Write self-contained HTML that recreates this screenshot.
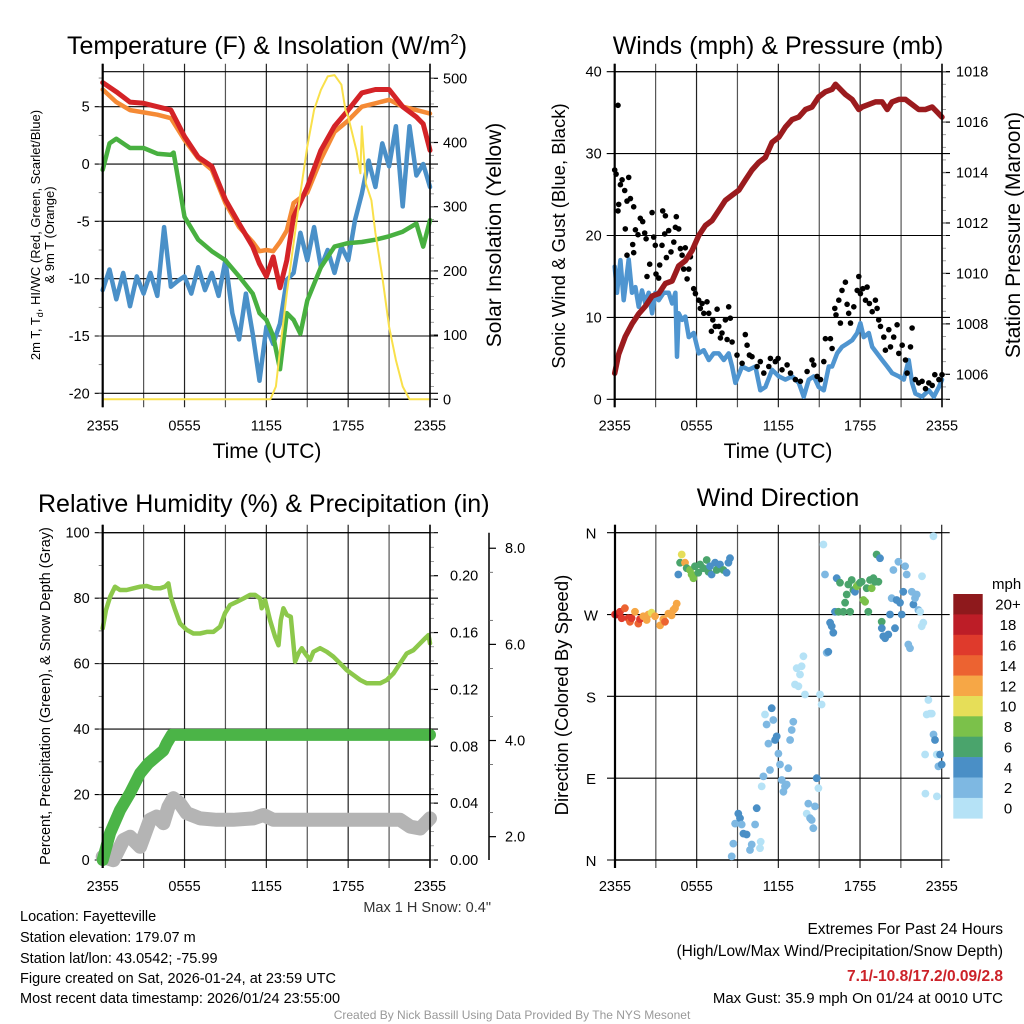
<!DOCTYPE html>
<html><head><meta charset="utf-8"><title>Mesonet Meteogram - Fayetteville</title>
<style>
html,body{margin:0;padding:0;background:#fff;}
svg{display:block;font-family:"Liberation Sans",Arial,sans-serif;}
</style></head>
<body>
<svg id="chart" width="1024" height="1024" viewBox="0 0 1024 1024" xmlns="http://www.w3.org/2000/svg">
<rect x="0" y="0" width="1024" height="1024" fill="#fff"/>
<!-- titles -->
<text x="267" y="54" font-size="25" text-anchor="middle">Temperature (F) &amp; Insolation (W/m<tspan font-size="15" dy="-10">2</tspan><tspan dy="10">)</tspan></text>
<text x="778" y="45" font-size="25" text-anchor="middle" dy="9">Winds (mph) &amp; Pressure (mb)</text>
<text x="38" y="512" font-size="25">Relative Humidity (%) &amp; Precipitation (in)</text>
<text x="778" y="506" font-size="25" text-anchor="middle">Wind Direction</text>
<!-- axis titles -->
<text transform="rotate(-90 40 235)" x="40" y="235" font-size="13" text-anchor="middle">2m T, T<tspan font-size="9" dy="3">d</tspan><tspan dy="-3">, HI/WC (Red, Green, Scarlet/Blue)</tspan></text>
<text transform="rotate(-90 54 235)" x="54" y="235" font-size="13" text-anchor="middle">&amp; 9m T (Orange)</text>
<text transform="rotate(-90 501 235)" x="501" y="235" font-size="21" text-anchor="middle">Solar Insolation (Yellow)</text>
<text x="267" y="458" font-size="21" text-anchor="middle">Time (UTC)</text>
<text transform="rotate(-90 565 236)" x="565" y="236" font-size="18.5" text-anchor="middle">Sonic Wind &amp; Gust (Blue, Black)</text>
<text transform="rotate(-90 1020 235)" x="1020" y="235" font-size="21" text-anchor="middle">Station Pressure (Maroon)</text>
<text x="778" y="458" font-size="21" text-anchor="middle">Time (UTC)</text>
<text transform="rotate(-90 50 696)" x="50" y="696" font-size="14.5" text-anchor="middle">Percent, Precipitation (Green), &amp; Snow Depth (Gray)</text>
<text transform="rotate(-90 568 695)" x="568" y="695" font-size="18.5" text-anchor="middle">Direction (Colored By Speed)</text>
<text x="992" y="589" font-size="15">mph</text>
<!-- footer text -->
<text x="491" y="912" font-size="14.5" text-anchor="end" fill="#333">Max 1 H Snow: 0.4"</text>
<text x="20" y="921" font-size="14.5">Location: Fayetteville</text>
<text x="20" y="942" font-size="14.5">Station elevation: 179.07 m</text>
<text x="20" y="963" font-size="14.5">Station lat/lon: 43.0542; -75.99</text>
<text x="20" y="983" font-size="14.5">Figure created on Sat, 2026-01-24, at 23:59 UTC</text>
<text x="20" y="1003" font-size="14.5">Most recent data timestamp: 2026/01/24 23:55:00</text>
<text x="1003" y="934" font-size="15.5" text-anchor="end">Extremes For Past 24 Hours</text>
<text x="1003" y="956" font-size="15.5" text-anchor="end">(High/Low/Max Wind/Precipitation/Snow Depth)</text>
<text x="1003" y="981" font-size="15.5" font-weight="bold" fill="#cc2229" text-anchor="end">7.1/-10.8/17.2/0.09/2.8</text>
<text x="1003" y="1003" font-size="15" text-anchor="end">Max Gust: 35.9 mph On 01/24 at 0010 UTC</text>
<text x="512" y="1019" font-size="12" fill="#999" text-anchor="middle">Created By Nick Bassill Using Data Provided By The NYS Mesonet</text>
</svg>
<script>
// ---------- DATA ----------
const timeTickLabels=['2355','0555','1155','1755','2355'];
const timeTickHours=[0,6,12,18,24];
const tempTicks=[5,0,-5,-10,-15,-20];
const insolTicks=[0,100,200,300,400,500];
const windTicks=[0,10,20,30,40];
const presTicks=[1006,1008,1010,1012,1014,1016,1018];
const rhTicks=[0,20,40,60,80,100];
const precipTicks=[0,0.04,0.08,0.12,0.16,0.20];
const snowTicks=[2,4,6,8];
const dirTicks=[0,90,180,270,360];
const dirTickLabels=['N','E','S','W','N'];
const speedBinLabels=['0','2','4','6','8','10','12','14','16','18','20+'];
const speedColors=['#b5e2f6','#7eb8e2','#4a8fc6','#4aa46c','#7bc14a','#e6de58','#f6a746','#ec6331','#df3a2c','#bd1d27','#8e191c'];

const redT=[0,1,2,3,4,5,6,7,8,9,10,11,11.5,12,12.5,13,13.5,14,15,16,17,18,19,20,21,22,23,23.5,24];
const redV=[7.1,6.3,5.4,5.3,5.0,4.7,2.4,0.6,-0.2,-3.1,-5.2,-7.2,-8.7,-9.8,-8.1,-10.8,-8.4,-4.6,-2.0,1.2,3.3,4.7,6.2,6.5,6.5,5.0,4.1,3.5,1.2];
const orangeT=[0,1,2,3,4,5,6,7,8,9,10,11,11.5,12,12.5,13,13.5,14,15,16,17,18,19,20,21,22,23,24];
const orangeV=[6.5,5.4,4.7,4.5,4.3,4.0,2.1,0.5,-0.5,-3.4,-5.5,-6.8,-7.6,-7.5,-7.6,-6.8,-5.8,-3.4,-2.5,0.4,2.8,3.8,5.0,5.3,5.6,5.0,4.7,4.4];
const dewT=[0,0.5,1,2,3,4,5,5.2,5.5,6,7,8,9,10,11,11.5,12,12.5,13,13.5,14,14.5,15,16,17,18,19,20,21,22,23,23.5,24];
const dewV=[-0.5,1.8,2.2,1.4,1.4,0.9,0.8,1.0,-1.1,-4.6,-6.6,-7.6,-8.4,-9.8,-11.3,-13,-13.6,-15,-17.9,-13,-13.6,-14.8,-11.9,-9.0,-7.2,-6.9,-6.8,-6.6,-6.3,-5.9,-5.2,-7.2,-4.9];
const chillT=[0,0.5,1,1.5,2,2.5,3,3.5,4,4.5,5,5.5,6,6.5,7,7.5,8,8.5,9,9.5,10,10.5,11,11.5,12,12.5,13,13.5,14,14.5,15,15.5,16,16.5,17,17.5,18,18.5,19,19.5,20,20.5,21,21.5,22,22.5,23,23.5,24];
const chillV=[-11,-9.2,-11.8,-9.5,-12.4,-9.8,-11.3,-9.5,-11.5,-5.5,-10.7,-10.2,-9.8,-11.3,-9.0,-11,-9.5,-11.5,-8.4,-13,-15.3,-11.3,-14.8,-18.9,-14.2,-15.7,-13.9,-10.1,-9.5,-6.0,-8.4,-5.5,-9.0,-7.5,-9.5,-7.2,-8.4,-4.9,-2.6,0.3,-2.0,1.8,-0.2,3.3,-3.7,3.3,-1.0,0.0,-2.0];
const solarT=[0,12.3,12.7,13,13.5,14,14.5,15,15.5,16,16.5,17,17.5,17.8,18,18.6,18.9,19.0,19.3,19.7,20,20.5,21,21.5,22,22.5,24];
const solarV=[0,0,20,77,165,243,321,394,451,482,503,505,490,451,440,388,352,425,336,310,259,191,113,61,20,0,0];

const windT=[0,.17,.42,.66,1.03,1.27,1.52,1.76,2.0,2.25,2.49,2.74,2.98,3.23,3.59,3.96,4.21,4.45,4.57,4.69,4.94,5.18,5.43,5.79,6.16,6.53,6.9,7.26,7.63,8.0,8.36,8.61,8.85,9.34,9.83,10.32,10.68,11.05,11.54,12.03,12.52,13.01,13.5,13.86,14.23,14.6,14.96,15.33,15.7,15.94,16.31,16.67,17.04,17.41,17.78,18.02,18.26,18.63,18.88,19.24,19.61,19.98,20.34,20.83,21.2,21.56,21.81,22.05,22.54,23.03,23.4,23.77,24];
const windV=[16.2,13,17,12.1,17.1,13,13.7,11.3,13.3,11.7,13,10.5,13,12.1,13,13,11.7,13,5.2,10.5,9.7,10.1,7.6,8.1,5.6,6.0,4.8,5.6,5.6,4.8,5.6,4.0,2.0,4.0,3.6,4.0,1.1,1.5,3.6,2.8,2.4,2.8,2.0,0.3,2.4,2.8,1.5,1.1,4.0,4.0,5.6,6.4,6.8,7.2,8.1,9.3,7.6,8.1,6.4,5.6,4.8,4.0,3.2,2.8,2.4,4.8,2.0,0.7,0.3,1.1,0.3,1.5,2.4];
const gustT=[0.24,0,0.1,0.29,0.24,0.42,0.54,1.03,0.73,0.9,0.78,1.15,1.39,0.9,1.39,1.32,1.52,1.71,1.88,2.05,2.2,2.3,2.37,2.57,2.74,2.86,2.98,3.03,3.23,3.3,3.47,3.52,3.72,3.67,3.79,3.96,4.13,4.33,4.45,4.52,4.69,4.82,4.94,5.06,5.18,5.31,5.43,5.55,5.79,5.92,6.16,6.28,6.41,6.53,6.77,6.9,7.09,7.19,7.38,7.51,7.63,7.75,7.87,8.12,8.24,8.36,8.48,8.61,8.97,9.34,9.58,9.71,9.88,10.07,10.44,10.68,10.93,11.3,11.42,11.78,11.98,12.27,12.64,12.89,13.25,13.62,14.11,14.47,14.6,14.84,15.09,15.33,15.45,15.82,15.94,16.14,16.23,16.43,16.55,16.67,16.92,17.04,17.16,17.29,17.53,17.78,17.9,18.02,18.19,18.39,18.51,18.68,18.88,19.12,19.24,19.36,19.49,19.73,19.85,20.1,20.22,20.46,20.71,20.83,21.08,21.32,21.44,21.69,21.81,22.05,22.29,22.54,22.79,23.03,23.28,23.47,23.77,24];
const gustV=[35.9,28,27.5,23.8,23,26.2,26.8,27.1,25.5,24.2,20.8,24.5,23.5,17.6,17.9,18.9,20.7,20.1,22.1,21.7,20.3,19.6,15,16.5,22.8,19.8,18.8,15.3,14.8,16.4,18.8,23,22.4,20.2,17.3,20.6,18,19.2,21,22.3,20.8,18.4,17.6,15.9,18.5,14.7,15.9,17.4,13.5,12.9,12.1,11.1,11.7,10.5,11.9,10.5,8.3,9.7,8.9,11.0,8.9,7.5,8.1,9.7,7.3,11.3,9.9,7.0,5.4,4.4,7.9,6.6,5.4,5.2,4.0,4.6,3.2,4.0,5.0,4.6,5.0,3.6,4.2,3.2,2.4,2.2,3.4,4.8,4.2,2.8,2.4,4.6,7.4,7.4,6.2,11.1,10.3,12.1,9.3,13.3,14.3,11.6,10.5,9.3,11.3,13.3,15,12.9,13.5,12.1,13.7,11.7,10.7,12.1,11.1,9.7,8.9,7.6,6.0,8.5,6.4,7.6,9.1,5.6,6.6,4.8,3.2,6.4,8.7,2.4,2.0,2.2,1.3,2.0,1.7,3.0,2.4,3.0];
const presT=[0,0.29,0.78,1.27,1.76,2.25,2.74,3.23,3.72,4.21,4.69,5.18,5.67,6.16,6.65,7.14,7.63,8.12,8.61,9.1,9.58,10.07,10.56,11.05,11.54,12.03,12.52,13.01,13.5,13.99,14.47,14.96,15.45,15.94,16.19,16.55,16.92,17.41,17.9,18.14,18.63,19.12,19.61,19.98,20.34,20.83,21.32,21.81,22.29,22.78,23.28,23.64,24];
const presV=[1006.04,1006.8,1007.5,1008,1008.4,1008.7,1009.1,1009.2,1009.6,1009.7,1010.3,1010.5,1010.9,1011.5,1011.9,1012.1,1012.5,1012.9,1013.1,1013.3,1013.7,1014.1,1014.4,1014.6,1015.2,1015.4,1015.8,1016.1,1016.2,1016.5,1016.6,1017.0,1017.2,1017.3,1017.5,1017.3,1017.1,1016.9,1016.5,1016.6,1016.7,1016.8,1016.8,1016.5,1016.8,1016.9,1016.9,1016.7,1016.5,1016.5,1016.6,1016.4,1016.2];

const rhT=[0,0.24,0.54,0.9,1.27,1.76,2.25,2.74,3.23,3.72,4.21,4.57,4.82,4.99,5.31,5.67,6.16,6.65,7.14,7.63,8.12,8.61,8.97,9.34,9.83,10.32,10.81,11.17,11.54,11.66,11.91,12.27,12.64,12.89,13.06,13.25,13.5,13.79,14.11,14.35,14.6,14.84,15.21,15.45,15.94,16.43,16.92,17.41,17.9,18.39,18.88,19.36,19.85,20.34,20.83,21.32,21.81,22.29,22.78,23.28,23.64,23.89,24];
const rhV=[70.8,76.4,80.4,83.5,82.5,82.5,83,83.5,83.7,83,83,83.5,84.5,80.4,76.4,72.3,70.3,69.2,69.2,69.7,69.7,71.3,75.4,77.9,78.9,79.9,81,81,79.9,76.9,79.4,73.3,68.2,65.6,73.3,76.9,74.9,74.3,60.6,63.1,64.7,63.1,61.1,63.6,64.7,63.6,62.1,60.1,58,56.5,55,54,54,54,55,57,60.1,63.1,64.1,66.2,67.7,68.7,66.2];
const precipT=[0,0.54,1.27,2.0,2.74,3.35,3.96,4.45,4.69,5.06,24];
const precipV=[0,0.019,0.035,0.047,0.061,0.068,0.073,0.077,0.082,0.088,0.088];
const snowT=[0,0.78,1.52,2.0,2.74,3.47,3.96,4.45,4.82,5.18,5.67,6.16,7.14,8.36,9.58,11.05,11.78,12.52,14.47,16.92,19.36,21.81,22.54,23.28,24];
const snowV=[1.58,1.51,1.93,2.0,1.79,2.35,2.42,2.28,2.62,2.8,2.69,2.49,2.38,2.35,2.35,2.38,2.45,2.35,2.35,2.35,2.35,2.35,2.21,2.17,2.38];

const dirT=[0,0.12,0.37,0.49,0.73,0.98,1.1,1.22,1.47,1.71,1.84,2.08,2.33,2.45,2.69,2.94,3.31,3.55,3.67,3.92,4.16,4.29,4.41,4.53,
4.65,4.78,4.9,5.14,5.27,5.51,5.63,5.76,5.88,6.12,6.25,6.49,6.74,6.86,6.98,7.1,7.35,7.47,7.71,7.96,8.2,8.33,8.45,
8.57,8.69,8.82,9.06,9.18,9.31,9.43,9.67,9.92,10.04,10.29,10.41,10.65,10.7,10.78,10.9,11.02,11.14,11.27,11.39,11.51,11.63,11.76,11.88,12.0,12.12,12.25,12.37,12.49,12.61,12.73,12.86,12.98,13.1,13.22,13.35,13.47,13.59,13.71,13.84,13.96,14.08,14.2,14.33,14.45,14.57,14.69,14.82,14.94,15.06,15.18,15.31,15.43,15.55,15.67,15.8,15.92,16.04,16.16,16.29,16.41,16.53,16.78,16.9,17.02,17.14,17.27,17.39,17.51,17.63,17.76,17.88,18.0,18.12,18.25,18.37,18.49,18.61,18.73,18.86,18.98,19.1,19.22,19.35,19.47,19.59,19.6,19.71,19.84,20.08,20.2,20.33,20.45,20.57,20.69,20.82,20.94,21.06,21.18,21.31,21.43,21.55,21.67,21.8,21.92,22.04,22.16,22.29,22.41,22.53,22.55,22.65,22.78,22.8,22.9,23.02,23.14,23.27,23.39,23.4,23.51,23.63,23.65,23.76,23.88,24.0];
const dirD=[270,270,273,266,277,266,262,266,273,260,265,268,264,270,272,268,258,265,262,271,269,275,277,282,
314,327,336,327,321,319,314,310,323,316,325,321,330,317,323,314,327,319,325,319,316,327,332,
4,18,40,51,46,39,29,28,11,17,39,57,13,20,81,92,160,149,128,99,167,154,132,136,117,105,88,75,81,83,101,132,143,152,193,211,191,204,213,224,182,51,62,46,44,35,59,90,79,182,171,347,314,228,229,261,257,250,273,310,273,305,273,283,292,303,273,308,297,295,301,303,305,306,286,284,299,273,308,299,310,306,336,306,332,262,255,246,244,248,270,288,319,255,286,328,283,270,295,323,314,237,233,295,281,288,292,275,273,257,312,261,116,73,160,176,161,161,356,138,132,116,70,103,116,105];
const dirS=[16,18,16,16,14,16,14,16,12,14,16,12,12,12,10,12,12,12,14,12,12,12,12,12,
4,6,10,12,6,8,8,8,6,6,6,6,6,6,4,4,4,6,4,6,4,4,4,
2,2,2,4,4,2,4,4,2,2,2,4,0,0,0,2,0,2,2,2,4,2,4,4,2,2,2,2,2,2,2,2,2,2,0,0,0,0,0,0,0,0,2,2,2,2,2,4,0,0,0,0,2,2,4,4,4,4,4,4,6,6,6,6,6,6,6,6,6,4,8,8,6,6,8,8,6,6,6,8,6,6,6,6,4,6,4,4,4,4,4,2,2,4,4,2,4,4,4,2,2,2,2,2,4,2,2,2,0,0,0,0,0,0,0,0,0,0,0,2,4,0,0,2,4,4];

// ---------- HELPERS ----------
const NS='http://www.w3.org/2000/svg';
const svg=document.getElementById('chart');
const layer=document.createElementNS(NS,'g');
svg.insertBefore(layer,svg.children[1]);


function mk(tag,attrs,parent){const e=document.createElementNS(NS,tag);for(const k in attrs)e.setAttribute(k,attrs[k]);(parent||layer).appendChild(e);return e;}
function ln(x1,y1,x2,y2,stroke,w,name){const e=mk('line',{x1:x1,y1:y1,x2:x2,y2:y2,stroke:stroke,'stroke-width':w});


return e;}
function tx(x,y,s,size,anchor,name){const e=mk('text',{x:x,y:y,'font-size':size,'text-anchor':anchor});e.textContent=s;


return e;}
function pathD(ts,vs,X,Y){let d='';const n=Math.min(ts.length,vs.length);for(let i=0;i<n;i++){d+=(i?'L':'M')+X(ts[i]).toFixed(1)+','+Y(vs[i]).toFixed(1);}return d;}
function series(ts,vs,X,Y,color,w,name){const e=mk('path',{d:pathD(ts,vs,X,Y),fill:'none',stroke:color,'stroke-width':w,'stroke-linejoin':'round','stroke-linecap':'round'});


return e;}
function timeScale(P){return t=>P.l+t/24*(P.r-P.l);}
function frame(P,X,key){
  for(let h=0;h<=24;h+=3){const x=X(h);ln(x,P.t-8,x,P.b+8,(h%6===0)?'#222':'#555',1.2,key+'-x-gridline');}
  ln(P.l,P.t,P.r,P.t,'#000',1.2,key+'-top-border');
  ln(P.l,P.b,P.r,P.b,'#000',1.5,key+'-bottom-border');
  for(let i=0;i<timeTickHours.length;i++){tx(X(timeTickHours[i]),P.b+31,timeTickLabels[i],14.5,'middle',key+'-x-tick-label');}
}
function leftTicks(P,vals,Y,fmt,key,minorStep,lo,hi){
  for(const v of vals){const y=Y(v);ln(P.l-8,y,P.r+8,y,'#000',1.1,key+'-y-gridline');tx(P.l-13,y+5,fmt(v),14.5,'end',key+'-y-tick-label');}
  if(minorStep){for(let v=lo;v<=hi+1e-9;v+=minorStep){const y=Y(v);if(y<P.t-0.5||y>P.b+0.5)continue;ln(P.l-4,y,P.l,y,'#666',0.8,key+'-y-minor-tick');}}
}
function rightTicks(P,vals,Y,fmt,key,minorStep,lo,hi,labelDx){
  for(const v of vals){const y=Y(v);ln(P.r,y,P.r+8,y,'#000',1.2,key+'-right-tick');tx(P.r+(labelDx||14),y+5,fmt(v),14.5,'start',key+'-right-tick-label');}
  if(minorStep){for(let v=lo;v<=hi+1e-9;v+=minorStep){const y=Y(v);if(y<P.t-0.5||y>P.b+0.5)continue;ln(P.r,y,P.r+4,y,'#888',0.8,key+'-right-minor-tick');}}
}

// ---------- PANEL 1: Temperature ----------
const P1={l:102.7,r:430,t:71.7,b:399.3};
const X1=timeScale(P1);
const yTemp=v=>106.7+(5-v)*11.465;
const yIns=v=>399.3-v*0.642;
frame(P1,X1,'temp');
leftTicks(P1,tempTicks,yTemp,v=>String(v),'temp',2.5,-20,7.5);
rightTicks(P1,insolTicks,yIns,v=>String(v),'insolation',20,0,500,13);
series(chillT,chillV,X1,yTemp,'#4a90c8',4.5,'wind-chill-line');
series(dewT,dewV,X1,yTemp,'#48b040',4.5,'dewpoint-line');
series(orangeT,orangeV,X1,yTemp,'#f58a35',4.5,'9m-temp-line');
series(redT,redV,X1,yTemp,'#d42327',5,'2m-temp-line');
series(solarT,solarV,X1,yIns,'#f9e04a',2,'solar-insolation-line');
ln(P1.l,P1.t-8,P1.l,P1.b+8,'#000',2.2,'temp-left-axis');
ln(P1.r,P1.t-8,P1.r,P1.b+8,'#000',1.5,'temp-right-axis');

// ---------- PANEL 2: Wind & Pressure ----------
const P2={l:614.7,r:942,t:71.7,b:399.3};
const X2=timeScale(P2);
const yWind=v=>399.3-v*8.19;
const yPres=v=>374.3-(v-1006)*25.22;
frame(P2,X2,'wind');
leftTicks(P2,windTicks,yWind,v=>String(v),'wind',0,0,0);
rightTicks(P2,presTicks,yPres,v=>String(v),'pressure',0.5,1005,1018,14);
series(windT,windV,X2,yWind,'#4f95d0',4.5,'sustained-wind-line');
for(let i=0;i<Math.min(gustT.length,gustV.length);i++){
  const c=mk('circle',{cx:X2(gustT[i]).toFixed(1),cy:yWind(gustV[i]).toFixed(1),r:2.8,fill:'#000'});
  
  
}
series(presT,presV,X2,yPres,'#9b1b1e',5.5,'station-pressure-line');
ln(P2.l,P2.t-8,P2.l,P2.b+8,'#000',2.2,'wind-left-axis');
ln(P2.r,P2.t-8,P2.r,P2.b+8,'#000',1.5,'wind-right-axis');

// ---------- PANEL 3: RH & Precip ----------
const P3={l:102.7,r:430,t:532.7,b:860};
const X3=timeScale(P3);
const yRH=v=>860-v*3.273;
const yPre=v=>860-v*1421.5;
const ySnow=v=>932.8-v*48.07;
frame(P3,X3,'rh');
leftTicks(P3,rhTicks,yRH,v=>String(v),'rh',10,0,100);
rightTicks(P3,precipTicks,yPre,v=>v.toFixed(2),'precip',0.01,0,0.23,20);
ln(489,532.7,489,860,'#000',1.5,'snow-axis-line');
for(const v of snowTicks){const y=ySnow(v);ln(489,y,496,y,'#000',1.2,'snow-tick');tx(505,y+5,v.toFixed(1),14.5,'start','snow-tick-label');}
for(let v=1.5;v<=8.5;v+=1){const y=ySnow(v);if(y<532.7||y>860)continue;ln(489,y,493,y,'#555',0.8,'snow-minor-tick');}
series(snowT,snowV,X3,ySnow,'#b4b4b4',14,'snow-depth-line');
series(precipT,precipV,X3,yPre,'#4bb447',12,'precipitation-line');
series(rhT,rhV,X3,yRH,'#8cc84b',4.5,'relative-humidity-line');
ln(P3.l,P3.t-8,P3.l,P3.b+8,'#000',2.2,'rh-left-axis');
ln(P3.r,P3.t-8,P3.r,P3.b+8,'#000',1.5,'rh-right-axis');

// ---------- PANEL 4: Wind direction ----------
const P4={l:615,r:941.7,t:532.7,b:860};
const X4=timeScale(P4);
const yDir=d=>860-d*(327.3/360);
frame(P4,X4,'direction');
for(let i=0;i<dirTicks.length;i++){const y=yDir(dirTicks[i]);ln(P4.l-8,y,P4.r+8,y,'#000',1.1,'direction-y-gridline');tx(P4.l-24,y+6,dirTickLabels[i],15,'middle','direction-y-tick-label');}
for(let i=0;i<Math.min(dirT.length,dirD.length,dirS.length);i++){
  const bin=Math.min(10,Math.floor(dirS[i]/2));
  const c=mk('circle',{cx:X4(dirT[i]).toFixed(1),cy:yDir(dirD[i]).toFixed(1),r:3.9,fill:speedColors[bin]});
  
  
}
ln(P4.l,P4.t-8,P4.l,P4.b+8,'#000',2.2,'direction-left-axis');
// colorbar
const cbTop=594,cbH=224.3/11;
for(let i=0;i<11;i++){
  const k=10-i;
  const r=mk('rect',{x:953.3,y:(cbTop+i*cbH).toFixed(1),width:29.4,height:(cbH+0.3).toFixed(1),fill:speedColors[k]});
  
  
  tx(1008,cbTop+i*cbH+cbH/2+5.5,speedBinLabels[k],15,'middle','colorbar-label');
}
</script>
</body></html>
